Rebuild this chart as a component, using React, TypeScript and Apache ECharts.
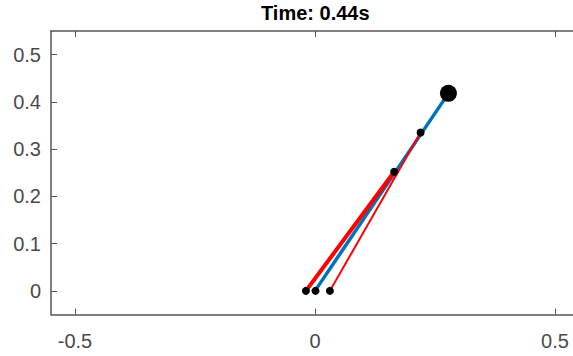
import React, { useEffect, useRef } from "react";
import * as echarts from "echarts";

const titleText = "Time: 0.44s";
const xTicks = [-0.5, 0, 0.5];
const yTicks = [0, 0.1, 0.2, 0.3, 0.4, 0.5];
const blueRod = [[0, 0], [0.278, 0.418]];
const redRodThick = [[-0.019, 0], [0.165, 0.252]];
const redRodThin = [[0.031, 0], [0.22, 0.335]];
const smallDots = [[-0.019, 0], [0.001, 0], [0.031, 0], [0.165, 0.252], [0.22, 0.335]];
const bigDot = [[0.278, 0.418]];

const FONT = "'Liberation Sans', Arial, Helvetica, sans-serif";
const AXIS_COLOR = "#555555";
const LABEL_COLOR = "#4a4a4a";

export default function App() {
  const ref = useRef<HTMLDivElement>(null);
  useEffect(() => {
    if (!ref.current) return;
    const chart = echarts.init(ref.current, undefined, { renderer: "svg" });
    const axisLine = { show: true, onZero: false, lineStyle: { color: AXIS_COLOR, width: 1.5 } };
    chart.setOption({
      animation: false,
      backgroundColor: "#ffffff",
      title: {
        text: titleText,
        left: 261,
        top: 3,
        padding: 0,
        textStyle: { fontFamily: FONT, fontSize: 20, fontWeight: "bold", color: "#000" },
      },
      grid: { left: 51, top: 31, width: 528, height: 283.5, containLabel: false },
      xAxis: [
        {
          type: "value",
          min: -0.55,
          max: 0.55,
          position: "bottom",
          splitLine: { show: false },
          axisLine,
          axisTick: { show: true, inside: true, length: 6, customValues: xTicks, lineStyle: { color: AXIS_COLOR, width: 1 } },
          axisLabel: {
            customValues: xTicks,
            margin: 16,
            fontFamily: FONT,
            fontSize: 20,
            color: LABEL_COLOR,
            formatter: (v: number) => String(v),
          },
        },
        {
          type: "value",
          min: -0.55,
          max: 0.55,
          position: "top",
          splitLine: { show: false },
          axisLine,
          axisTick: { show: true, inside: true, length: 6, customValues: xTicks, lineStyle: { color: AXIS_COLOR, width: 1 } },
          axisLabel: { show: false },
        },
      ],
      yAxis: [
        {
          type: "value",
          min: -0.05,
          max: 0.55,
          position: "left",
          splitLine: { show: false },
          axisLine,
          axisTick: { show: true, inside: true, length: 6, customValues: yTicks, lineStyle: { color: AXIS_COLOR, width: 1 } },
          axisLabel: {
            customValues: yTicks,
            margin: 10,
            fontFamily: FONT,
            fontSize: 20,
            color: LABEL_COLOR,
            formatter: (v: number) => String(Math.round(v * 10) / 10),
          },
        },
      ],
      series: [
        {
          type: "line",
          data: blueRod,
          showSymbol: false,
          lineStyle: { color: "#0072BD", width: 3.5 },
          z: 2,
        },
        {
          type: "line",
          data: redRodThick,
          showSymbol: false,
          lineStyle: { color: "#FF0000", width: 4 },
          z: 3,
        },
        {
          type: "line",
          data: redRodThin,
          showSymbol: false,
          lineStyle: { color: "#FF0000", width: 2 },
          z: 3,
        },
        {
          type: "scatter",
          data: smallDots,
          symbolSize: 8,
          itemStyle: { color: "#000", opacity: 1 },
          z: 5,
        },
        {
          type: "scatter",
          data: bigDot,
          symbolSize: 17,
          itemStyle: { color: "#000", opacity: 1 },
          z: 5,
        },
      ],
    });
    return () => chart.dispose();
  }, []);
  return (
    <div
      style={{ position: "absolute", left: 0, top: 0, width: 573, height: 356, overflow: "hidden", background: "#fff" }}
    >
      <div ref={ref} style={{ width: 584, height: 356 }} />
    </div>
  );
}
